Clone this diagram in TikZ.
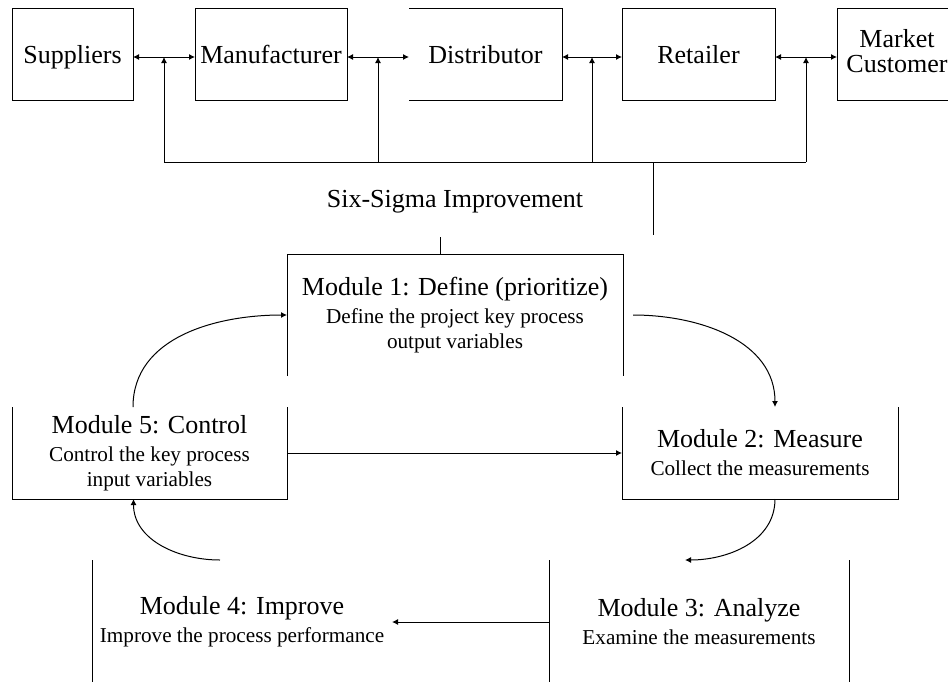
\documentclass[tikz,border=0pt]{standalone}
\usepackage{fontspec}
\setmainfont{Liberation Serif}
\usetikzlibrary{arrows.meta}
\tikzset{
  unit/.style={draw, minimum height=46pt, inner sep=0pt, outer sep=0pt, align=center,
    text height=11pt, text depth=2pt, font=\fontsize{13}{12.5}\selectfont},
  module/.style={inner sep=0pt, outer sep=0pt, align=center,
    font=\fontsize{10.6}{12.5}\selectfont},
}
\newcommand\modtitle[1]{{\fontsize{13}{14}\selectfont #1}}
\begin{document}
\begin{tikzpicture}[x=0.5pt, y=-0.5pt, line width=0.5pt, >={Latex[length=3pt,width=3pt]}]
	\useasboundingbox (0,0) rectangle (948,681);
	% supply chain
	\node (sup) at (72.5,54) [unit, minimum width=60.5pt] {Suppliers};
	\node (man) at (271,54)  [unit, minimum width=76pt] {Manufacturer};
	\node (dis) at (485.5,54) [unit, draw=none, minimum width=76.5pt] {Distributor};
	\node (ret) at (698.5,54) [unit, minimum width=76.5pt] {Retailer};
	\node (mkt) at (897,54)  [unit, text height=, text depth=3.5pt, minimum width=60pt] {Market\\Customer};
	\draw (dis.north west) -- (dis.north east) -- (dis.south east) -- (dis.south west);
	\draw[<->] ([yshift=-1.5pt]sup.east) -- ([yshift=-1.5pt]man.west);
	\draw[<->] ([yshift=-1.5pt]man.east) -- ([yshift=-1.5pt]dis.west);
	\draw[<->] ([yshift=-1.5pt]dis.east) -- ([yshift=-1.5pt]ret.west);
	\draw[<->] ([yshift=-1.5pt]ret.east) -- ([yshift=-1.5pt]mkt.west);
	% feedback bus
	\coordinate (bus) at (0,162);
	\coordinate (j1) at (164,57);
	\coordinate (j2) at (378,57);
	\coordinate (j3) at (592,57);
	\coordinate (j4) at (806,57);
	\coordinate (tr) at (653,235);
	\draw[->] (j1 |- bus) -- (j1);
	\draw[->] (j2 |- bus) -- (j2);
	\draw[->] (j3 |- bus) -- (j3);
	\draw[->] (j4 |- bus) -- (j4);
	\draw (j1 |- bus) -- (j4 |- bus);
	\draw (tr |- bus) -- (tr);
	\node (six) at (455,202) [font=\fontsize{13}{14}\selectfont] {Six-Sigma Improvement};
	% modules
	\node (m1) at (455,315) [module, minimum width=168pt, minimum height=61pt]
		{\modtitle{Module 1: Define (prioritize)}\\[1.5pt] Define the project key process\\ output variables};
	\node (m5) at (149.5,453) [module, minimum width=137.5pt, minimum height=46pt]
		{\modtitle{Module 5: Control}\\[1.5pt] Control the key process\\ input variables};
	\node (m2) at (760,453) [module, minimum width=138pt, minimum height=46pt]
		{\modtitle{Module 2: Measure}\\[1.5pt] Collect the measurements};
	\node (m3) at (699,622) [module, minimum width=150pt, minimum height=62pt]
		{\modtitle{Module 3: Analyze}\\[1.5pt] Examine the measurements};
	\node (m4) at (242,622) [module, minimum width=150pt, minimum height=62pt]
		{\modtitle{Module 4: Improve}\\[1.5pt] Improve the process performance};
	\draw (m1.south west) -- (m1.north west) -- (m1.north east) -- (m1.south east);
	\draw (m5.north west) -- (m5.south west) -- (m5.south east) -- (m5.north east);
	\draw (m2.north west) -- (m2.south west) -- (m2.south east) -- (m2.north east);
	\draw (m3.north west) -- (m3.south west);
	\draw (m3.north east) -- (m3.south east);
	\draw (m4.north west) -- (m4.south west);
	\draw ([xshift=-7.5pt]m1.north) -- ++(0,-17);
	% cycle
	\draw[->] ([xshift=-8.25pt]m5.north) to[out=90, in=180] (m1.west);
	\draw[->] ([xshift=5pt]m1.east) to[out=0, in=90] ([xshift=7.5pt]m2.north);
	\draw[->] ([xshift=7.5pt]m2.south) to[out=-90, in=0] ([xshift=-7pt]m3.north);
	\draw[->] ([xshift=-11pt]m4.north) to[out=180, in=-90] ([xshift=-8pt]m5.south);
	\draw[->] (m5) -- (m2);
	\draw[->] (m3) -- (m4);
\end{tikzpicture}
\end{document}
